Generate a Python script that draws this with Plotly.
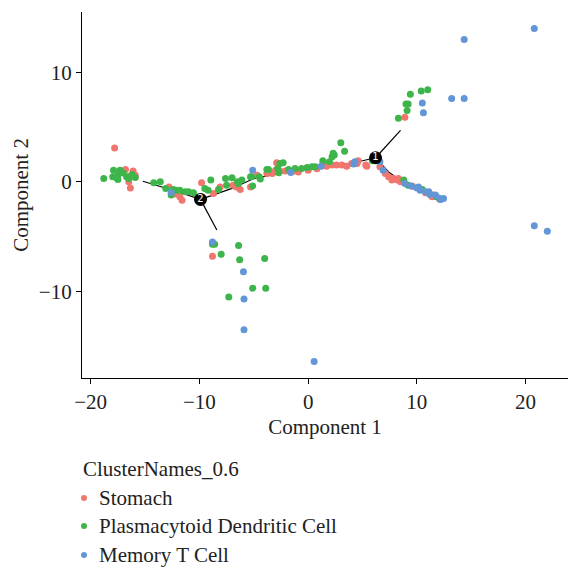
import plotly.graph_objects as go

# ---------------- data ----------------
categories = ["Stomach", "Plasmacytoid Dendritic Cell", "Memory T Cell"]
colors = ["#F1766D", "#3DB54A", "#6396D6"]

stomach_x = [-17.8, -16.8, -16.4, -16.1, -15.9, -16.35, -16.5,
             -12.8, -11.8, -11.6, -12.2, -9.8, -8.7, -8.1, -6.9, -6.25, -6.6, -5.3,
             -4.7, -3.8, -3.0, -2.9, -2.1, -1.8, -3.3, -2.6, -0.9, 0.0, 1.35, 1.7,
             2.2, 2.6, 3.1, 3.55, 4.0, 4.5, 4.6, 5.4, 5.3, 0.8, -1.3,
             6.6, 7.1, 7.4, 7.85, 8.2, 8.5, 7.7, 8.3, 11.5, 11.4, 12.1, 9.6, 10.8,
             8.9, -8.8]
stomach_y = [3.1, 1.13, 0.52, 0.98, 0.61, -0.55, 0.0,
             -0.46, -1.37, -1.67, -1.1, -0.09, -1.06, -0.46, -0.3, -0.7, -0.46, -0.46,
             0.61, 0.77, 1.07, 1.74, 1.0, 1.07, 0.77, 1.0, 0.91, 1.07, 1.62, 1.43,
             1.53, 1.53, 1.53, 1.43, 1.68, 1.68, 1.92, 1.43, 1.53, 1.2, 1.0,
             1.37, 0.77, 0.46, 0.31, 0.16, 0.0, 0.16, 0.31, -1.2, -1.37, -1.58, -0.4, -1.0,
             5.9, -6.8]

pdc_x = [-18.8, -17.9, -17.97, -17.3, -17.6, -17.5, -16.7, -16.2, -15.9, -17.5, -17.0, -16.5,
         -14.2, -13.6, -13.1, -12.4, -12.1, -11.8, -11.3, -11.0, -10.55, -9.5, -9.2, -8.95,
         -8.25, -7.6, -7.0, -7.5, -6.5, -6.4, -6.1, -5.3, -5.1, -5.2, -4.5, -4.4, -3.8,
         -3.65, -2.6, -2.3, -2.7, -2.8, -1.8, -1.2, -0.6, -0.1, 0.35, 0.65, 1.35, 1.96,
         2.2, 2.3, 2.4, 3.0, 3.35, 5.9, -12.6,
         8.8, 9.2, 10.5, 11.8,
         9.4, 10.4, 11.0, 9.0, 9.2, 9.1, 8.3,
         -8.8, -8.6, -8.0, -6.4, -6.3, -4.0, -5.1, -3.9, -7.3]
pdc_y = [0.3, 1.07, 0.46, 1.07, 0.34, 0.22, 0.46, 0.68, 0.4, 0.61, 0.8, 0.3,
         -0.09, 0.0, -0.6, -0.7, -0.76, -0.76, -0.91, -0.91, -1.0, -0.6, -0.76, 0.16,
         -0.7, 0.31, 0.37, -0.3, 0.0, -0.15, 0.16, 0.46, -0.37, 0.46, 0.46, 0.25, 1.13,
         1.13, 1.68, 1.74, 0.82, 1.22, 1.13, 1.22, 1.22, 1.31, 1.37, 1.37, 1.92, 1.83,
         2.28, 2.6, 2.44, 3.56, 2.8, 1.92, -1.2,
         0.16, -0.3, -0.7, -1.37,
         8.0, 8.3, 8.4, 7.1, 7.1, 6.5, 5.8,
         -5.7, -5.7, -6.6, -5.8, -7.1, -7.0, -9.7, -9.7, -10.5]

memt_x = [20.8, 14.35, 13.2, 14.35, 20.8, 22.0, 0.55, 10.5, 10.6,
          -8.8, -5.95, -5.9, -5.9,
          -12.6, -5.1, -1.6, 1.2, 4.2, 4.3, 6.6, 6.9, 8.9, 9.5, 10.0, 10.15,
          10.3, 10.8, 11.1, 11.2, 11.7, 12.1, 12.45, 12.2]
memt_y = [14.0, 13.0, 7.6, 7.6, -4.0, -4.5, -16.4, 7.2, 6.3,
          -5.5, -8.2, -10.7, -13.5,
          -0.97, 1.07, 0.86, 1.43, 1.62, 1.83, 1.83, 1.07, -0.15, -0.37, -0.55, -0.46,
          -0.76, -0.91, -0.91, -1.15, -1.2, -1.52, -1.52, -1.6]

# trajectory tree (segments separated by None)
traj_x = [-15.2, -12.0, -9.9, None,
          -9.9, -8.4, None,
          -9.9, -7.0, -5.0, -2.0, 0.0, 2.0, 4.0, 6.2, None,
          6.2, 8.5, None,
          6.2, 7.4, 8.2, 10.0, 12.1]
traj_y = [0.05, -0.9, -1.6, None,
          -1.6, -4.4, None,
          -1.6, -0.6, 0.3, 0.9, 1.2, 1.5, 1.7, 2.2, None,
          2.2, 4.7, None,
          2.2, 0.9, 0.34, -0.6, -1.5]

branch_x = [6.2, -9.9]
branch_y = [2.2, -1.6]
branch_labels = ["1", "2"]

x_ticks = [-20, -10, 0, 10, 20]
y_ticks = [-10, 0, 10]

# ---------------- figure ----------------
FONT = "'Liberation Serif', 'Times New Roman', 'DejaVu Serif', serif"
TXT = "#222222"
FS = 21
fig = go.Figure()

fig.add_trace(go.Scatter(x=traj_x, y=traj_y, mode="lines",
                         line=dict(color="black", width=1.2),
                         hoverinfo="skip", showlegend=False))

series = [(stomach_x, stomach_y), (pdc_x, pdc_y), (memt_x, memt_y)]
for name, col, (sx, sy) in zip(categories, colors, series):
    fig.add_trace(go.Scatter(x=sx, y=sy, mode="markers", name=name,
                             marker=dict(color=col, size=7, line=dict(width=0)),
                             showlegend=False))

fig.add_trace(go.Scatter(x=branch_x, y=branch_y, mode="markers+text",
                         text=branch_labels, textposition="middle center",
                         textfont=dict(color="white", size=10, family="DejaVu Sans"),
                         marker=dict(color="black", size=13, line=dict(width=0)),
                         showlegend=False))

def fmt(v):
    return ("\u2212" + str(abs(v))) if v < 0 else str(v)

axis_common = dict(showgrid=False, zeroline=False, showline=True,
                   linecolor="black", linewidth=1.2, ticks="outside",
                   ticklen=5, tickwidth=1.2, tickcolor="black",
                   tickfont=dict(family=FONT, size=FS, color=TXT),
                   mirror=False)

fig.update_layout(
    width=570, height=578,
    margin=dict(l=82, r=2, t=12, b=200),
    paper_bgcolor="white", plot_bgcolor="white",
    font=dict(family=FONT, size=FS, color=TXT),
    xaxis=dict(range=[-20.8, 23.9], tickvals=x_ticks,
               ticktext=[fmt(v) for v in x_ticks],
               title=dict(text="Component 1", font=dict(family=FONT, size=FS, color=TXT),
                          standoff=6),
               **axis_common),
    yaxis=dict(range=[-17.9, 15.5], tickvals=y_ticks,
               ticktext=[fmt(v) for v in y_ticks],
               title=dict(text="Component 2", font=dict(family=FONT, size=FS, color=TXT),
                          standoff=4),
               **axis_common),
    showlegend=False,
)

# manual legend (ggplot style, below the plot)
plot_w, plot_h = 486.0, 366.0
def px_to_paper_x(px):
    return (px - 82) / plot_w
def px_to_paper_y(py):
    return (378 - py) / plot_h

fig.add_annotation(text="ClusterNames_0.6", xref="paper", yref="paper",
                   x=px_to_paper_x(81), y=px_to_paper_y(469), xanchor="left",
                   yanchor="middle", showarrow=False,
                   font=dict(family=FONT, size=FS, color=TXT))
leg_y = [498, 526, 555]
for name, col, py in zip(categories, colors, leg_y):
    fig.add_shape(type="circle", xref="paper", yref="paper",
                  xsizemode="pixel", ysizemode="pixel",
                  xanchor=px_to_paper_x(84), yanchor=px_to_paper_y(py),
                  x0=-3, x1=3, y0=-3, y1=3,
                  fillcolor=col, line=dict(width=0))
    fig.add_annotation(text=name, xref="paper", yref="paper",
                       x=px_to_paper_x(97), y=px_to_paper_y(py), xanchor="left",
                       yanchor="middle", showarrow=False,
                       font=dict(family=FONT, size=FS, color=TXT))

fig.write_html("out.html")
